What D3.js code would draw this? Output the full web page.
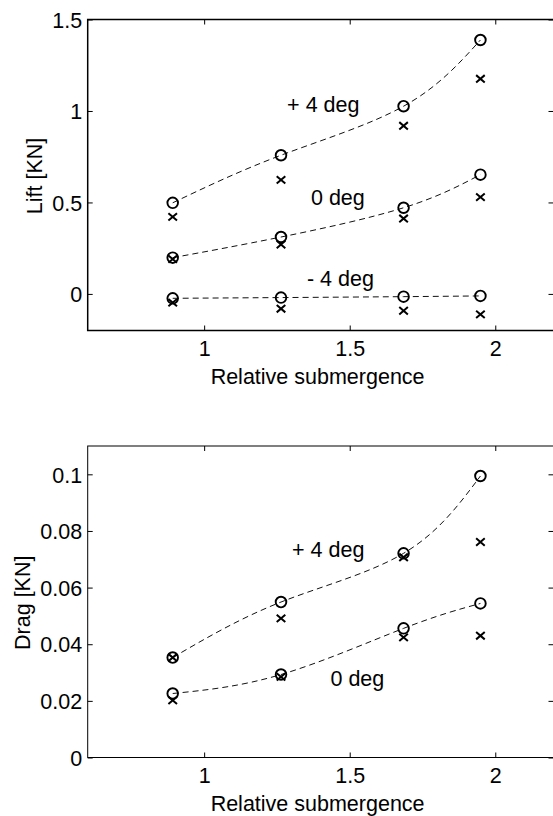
<!DOCTYPE html>
<html>
<head>
<meta charset="utf-8">
<script src="https://cdn.jsdelivr.net/npm/d3@7"></script>
<style>
  html, body { margin: 0; padding: 0; background: #fff; }
  svg { display: block; }
  text { font-family: "Liberation Sans", Arial, Helvetica, sans-serif; fill: #000; }
</style>
</head>
<body>
<div id="chart"></div>
<script>
(function () {
  'use strict';

  // Relative submergence (x) of the four test cases
  const SUBMERGENCE = [0.892, 1.264, 1.685, 1.949];

  // Lift [KN] — circles (dashed fit) and crosses, per angle
  const LIFT_P4_CIRC = [0.498, 0.758, 1.026, 1.388];
  const LIFT_P4_CROSS = [0.421, 0.623, 0.919, 1.176];
  const LIFT_0_CIRC = [0.198, 0.311, 0.471, 0.652];
  const LIFT_0_CROSS = [0.190, 0.270, 0.412, 0.529];
  const LIFT_M4_CIRC = [-0.024, -0.020, -0.015, -0.011];
  const LIFT_M4_CROSS = [-0.048, -0.081, -0.092, -0.112];

  // Drag [KN]
  const DRAG_P4_CIRC = [0.0353, 0.0549, 0.0721, 0.0994];
  const DRAG_P4_CROSS = [0.0353, 0.0491, 0.0707, 0.0761];
  const DRAG_0_CIRC = [0.0226, 0.0293, 0.0456, 0.0544];
  const DRAG_0_CROSS = [0.0202, 0.0285, 0.0424, 0.0430];

  // Axis ticks
  const X_TICKS = [1, 1.5, 2];
  const LIFT_TICKS = [0, 0.5, 1, 1.5];
  const DRAG_TICKS = [0, 0.02, 0.04, 0.06, 0.08, 0.1];

  // Angle annotations (data coords of the text start / baseline)
  const LIFT_LABELS = [
    { text: '+ 4 deg', x: 1.285, y: 0.992 },
    { text: '0 deg', x: 1.367, y: 0.4835 },
    { text: '- 4 deg', x: 1.353, y: 0.044 }
  ];
  const DRAG_LABELS = [
    { text: '+ 4 deg', x: 1.302, y: 0.0709 },
    { text: '0 deg', x: 1.434, y: 0.0253 }
  ];

  const W = 553, H = 816;
  const FONT = 21.5;

  const svg = d3.select('#chart').append('svg')
    .attr('width', W).attr('height', H);

  function drawPanel(opt) {
    const x = d3.scaleLinear().domain([0.6, 2.2]).range([opt.left, opt.right]);
    const y = d3.scaleLinear().domain(opt.yDomain).range([opt.bottom, opt.top]);
    const g = svg.append('g');

    // Dashed curves through the circles
    const line = d3.line()
      .x((d, i) => x(SUBMERGENCE[i]))
      .y(d => y(d))
      .curve(d3.curveNatural);

    opt.series.forEach(s => {
      g.append('path')
        .attr('d', line(s.circ))
        .attr('fill', 'none')
        .attr('stroke', '#111')
        .attr('stroke-width', 1)
        .attr('stroke-dasharray', '6,4');
    });

    // Markers
    opt.series.forEach(s => {
      g.selectAll(null).data(s.circ).enter().append('circle')
        .attr('cx', (d, i) => x(SUBMERGENCE[i]))
        .attr('cy', d => y(d))
        .attr('r', 5.3)
        .attr('fill', 'none')
        .attr('stroke', '#000')
        .attr('stroke-width', 1.9);

      const k = 4.3;
      g.selectAll(null).data(s.cross).enter().append('path')
        .attr('d', (d, i) => {
          const cx = x(SUBMERGENCE[i]), cy = y(d);
          return `M${cx - k},${cy - k * 0.85}L${cx + k},${cy + k * 0.85}` +
                 `M${cx - k},${cy + k * 0.85}L${cx + k},${cy - k * 0.85}`;
        })
        .attr('stroke', '#000')
        .attr('stroke-width', 2);
    });

    // Annotations
    opt.labels.forEach(l => {
      g.append('text')
        .attr('x', x(l.x)).attr('y', y(l.y))
        .attr('font-size', FONT)
        .text(l.text);
    });

    // Axes: ticks inward on all four sides
    const axB = g.append('g').attr('transform', `translate(0,${opt.bottom})`)
      .call(d3.axisBottom(x).tickValues(X_TICKS).tickSize(-5).tickSizeOuter(0)
        .tickPadding(10).tickFormat(d3.format('')));
    const axT = g.append('g').attr('transform', `translate(0,${opt.top})`)
      .call(d3.axisTop(x).tickValues(X_TICKS).tickSize(-5).tickSizeOuter(0).tickFormat(''));
    const axL = g.append('g').attr('transform', `translate(${opt.left},0)`)
      .call(d3.axisLeft(y).tickValues(opt.yTicks).tickSize(-5).tickSizeOuter(0)
        .tickPadding(5.5).tickFormat(d3.format('')));
    const axR = g.append('g').attr('transform', `translate(${opt.right},0)`)
      .call(d3.axisRight(y).tickValues(opt.yTicks).tickSize(-5).tickSizeOuter(0).tickFormat(''));

    [axB, axT, axL, axR].forEach(a => {
      a.select('.domain').remove();
      a.selectAll('line').attr('stroke', '#000').attr('stroke-width', 1);
      a.selectAll('text')
        .attr('font-family', '"Liberation Sans", Arial, sans-serif')
        .attr('font-size', FONT).attr('fill', '#000');
    });
    axL.selectAll('text').attr('dy', '0.36em');

    // Box (right side falls just past the window edge, as in the figure)
    g.append('rect')
      .attr('x', opt.left).attr('y', opt.top)
      .attr('width', opt.right - opt.left + 1.5).attr('height', opt.bottom - opt.top)
      .attr('fill', 'none').attr('stroke', '#000').attr('stroke-width', opt.frame);

    // Axis titles
    g.append('text')
      .attr('x', (opt.left + opt.right) / 2 - 3).attr('y', opt.bottom + 53)
      .attr('text-anchor', 'middle').attr('font-size', FONT)
      .text('Relative submergence');

    g.append('text')
      .attr('transform', `translate(${opt.yTitleX},${(opt.top + opt.bottom) / 2 + 1}) rotate(-90)`)
      .attr('text-anchor', 'middle').attr('font-size', FONT)
      .text(opt.yTitle);
  }

  drawPanel({
    left: 87.7, right: 553.5, top: 19.5, bottom: 330.5,
    yDomain: [-0.2, 1.5], yTicks: LIFT_TICKS,
    yTitle: 'Lift [KN]', yTitleX: 41.5, frame: 1.5,
    series: [
      { circ: LIFT_P4_CIRC, cross: LIFT_P4_CROSS },
      { circ: LIFT_0_CIRC, cross: LIFT_0_CROSS },
      { circ: LIFT_M4_CIRC, cross: LIFT_M4_CROSS }
    ],
    labels: LIFT_LABELS
  });

  drawPanel({
    left: 87.7, right: 553.5, top: 446, bottom: 757.5,
    yDomain: [0, 0.11], yTicks: DRAG_TICKS,
    yTitle: 'Drag [KN]', yTitleX: 29.5, frame: 1,
    series: [
      { circ: DRAG_P4_CIRC, cross: DRAG_P4_CROSS },
      { circ: DRAG_0_CIRC, cross: DRAG_0_CROSS }
    ],
    labels: DRAG_LABELS
  });
})();
</script>
</body>
</html>
